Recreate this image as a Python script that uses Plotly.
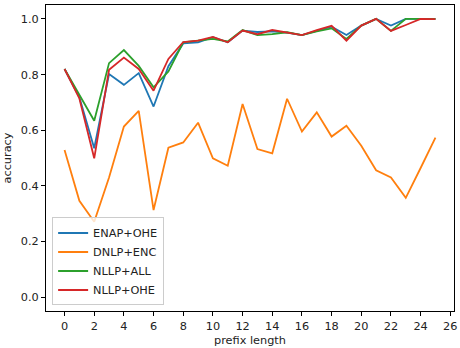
import plotly.graph_objects as go

prefix_length = list(range(26))

enap_ohe = [0.820, 0.718, 0.535, 0.802, 0.763, 0.805, 0.685, 0.830, 0.912, 0.916,
            0.934, 0.916, 0.958, 0.953, 0.955, 0.951, 0.942, 0.957, 0.972, 0.942,
            0.976, 1.000, 0.976, 1.000, 1.000, 1.000]
dnlp_enc = [0.529, 0.346, 0.271, 0.430, 0.613, 0.669, 0.313, 0.537, 0.556, 0.627,
            0.499, 0.472, 0.694, 0.532, 0.517, 0.713, 0.595, 0.664, 0.577, 0.616,
            0.544, 0.456, 0.430, 0.357, 0.464, 0.573]
nllp_all = [0.820, 0.727, 0.634, 0.841, 0.888, 0.831, 0.754, 0.811, 0.916, 0.922,
            0.928, 0.919, 0.960, 0.942, 0.945, 0.952, 0.942, 0.955, 0.966, 0.928,
            0.976, 1.000, 0.957, 1.000, 1.000, 1.000]
nllp_ohe = [0.820, 0.714, 0.499, 0.817, 0.861, 0.820, 0.742, 0.856, 0.917, 0.922,
            0.935, 0.916, 0.958, 0.945, 0.960, 0.952, 0.942, 0.960, 0.975, 0.922,
            0.976, 1.000, 0.957, 0.978, 1.000, 0.999]

series = [
    ("ENAP+OHE", enap_ohe, "#1f77b4"),
    ("DNLP+ENC", dnlp_enc, "#ff7f0e"),
    ("NLLP+ALL", nllp_all, "#2ca02c"),
    ("NLLP+OHE", nllp_ohe, "#d62728"),
]

x_ticks = list(range(0, 27, 2))
y_ticks = [0.0, 0.2, 0.4, 0.6, 0.8, 1.0]

fig = go.Figure()
for name, vals, color in series:
    fig.add_trace(go.Scatter(x=prefix_length, y=vals, mode="lines", name=name,
                             line=dict(color=color, width=1.8)))

font = dict(family="DejaVu Sans", size=11.3, color="#222")
axis_common = dict(showline=True, linecolor="black", linewidth=1, mirror=True,
                   ticks="outside", ticklen=4, tickcolor="black", showgrid=False,
                   zeroline=False, tickfont=font, ticklabeloverflow="allow")

fig.update_layout(
    width=460, height=348,
    margin=dict(l=46, r=3, t=5, b=37),
    paper_bgcolor="white", plot_bgcolor="white",
    font=font,
    showlegend=True,
    legend=dict(x=0.015, y=0.018, xanchor="left", yanchor="bottom",
                bordercolor="#cccccc", borderwidth=1, bgcolor="rgba(255,255,255,0.8)",
                font=font, tracegroupgap=0, itemwidth=30),
    xaxis=dict(range=[-1.25, 26.25], tickvals=x_ticks,
               title=dict(text="prefix length", font=font, standoff=4), **axis_common),
    yaxis=dict(range=[-0.05, 1.05], tickvals=y_ticks, tickformat=".1f",
               title=dict(text="accuracy", font=font, standoff=6), **axis_common),
)

fig.write_html("out.html")
